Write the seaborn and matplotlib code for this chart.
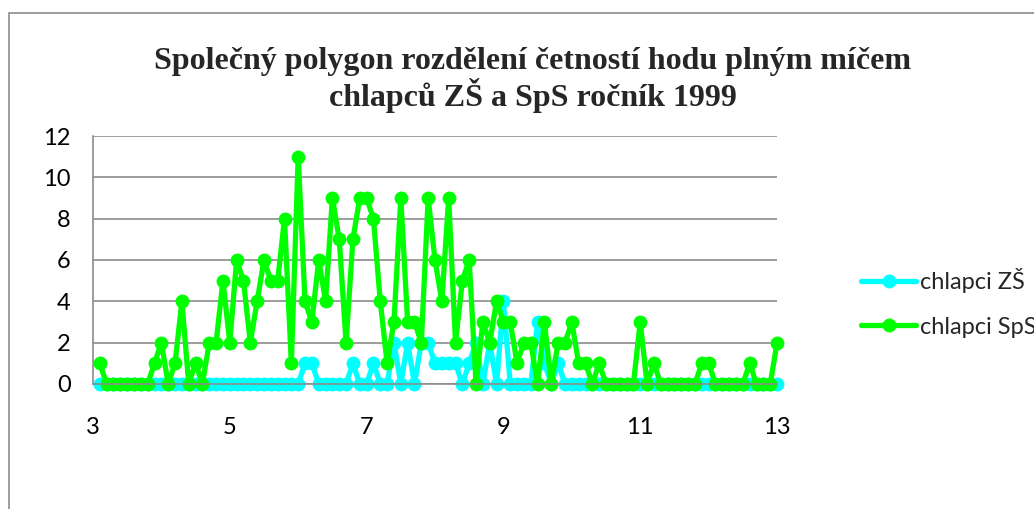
import numpy as np
import pandas as pd
import matplotlib
matplotlib.use("Agg")
import matplotlib.pyplot as plt
from matplotlib.patches import Rectangle
import seaborn as sns

# throw distance in m, step 0.1 from 3.1 to 13.0
distance = np.round(np.arange(3.1, 13.05, 0.1), 1)

chlapci_zs = [
    0, 0, 0, 0, 0, 0, 0, 0, 0, 0,
    0, 0, 0, 0, 0, 0, 0, 0, 0, 0,
    0, 0, 0, 0, 0, 0, 0, 0, 0, 0,
    1, 1, 0, 0, 0, 0, 0, 1, 0, 0,
    1, 0, 0, 2, 0, 2, 0, 2, 2, 1,
    1, 1, 1, 0, 1, 2, 0, 2, 0, 4,
    0, 0, 0, 0, 3, 1, 0, 1, 0, 0,
    0, 0, 0, 0, 0, 0, 0, 0, 0, 0,
    0, 0, 0, 0, 0, 0, 0, 0, 0, 0,
    0, 0, 0, 0, 0, 0, 0, 0, 0, 0,
]
chlapci_sps = [
    1, 0, 0, 0, 0, 0, 0, 0, 1, 2,
    0, 1, 4, 0, 1, 0, 2, 2, 5, 2,
    6, 5, 2, 4, 6, 5, 5, 8, 1, 11,
    4, 3, 6, 4, 9, 7, 2, 7, 9, 9,
    8, 4, 1, 3, 9, 3, 3, 2, 9, 6,
    4, 9, 2, 5, 6, 0, 3, 2, 4, 3,
    3, 1, 2, 2, 0, 3, 0, 2, 2, 3,
    1, 1, 0, 1, 0, 0, 0, 0, 0, 3,
    0, 1, 0, 0, 0, 0, 0, 0, 1, 1,
    0, 0, 0, 0, 0, 1, 0, 0, 0, 2,
]
series_names = ["chlapci ZŠ", "chlapci SpS"]
series_colors = ["#00FFFF", "#00FF00"]
x_ticks = [3, 5, 7, 9, 11, 13]
y_ticks = [0, 2, 4, 6, 8, 10, 12]

df = pd.concat([
    pd.DataFrame({"x": distance, "value": chlapci_zs, "series": series_names[0]}),
    pd.DataFrame({"x": distance, "value": chlapci_sps, "series": series_names[1]}),
])

sns.set_style("white")
plt.rcParams["font.family"] = ["Lato", "DejaVu Sans"]

fig = plt.figure(figsize=(10.34, 5.09), dpi=100)
ax = fig.add_axes([0.0899, 0.2456, 0.6616, 0.4872])

sns.lineplot(data=df, x="x", y="value", hue="series", hue_order=series_names,
             palette=series_colors, marker="o", markersize=10, markeredgewidth=0,
             linewidth=3.8, ax=ax, legend=True, clip_on=False)

ax.set_xlim(3, 13)
ax.set_ylim(0, 12)
ax.set_xticks(x_ticks)
ax.set_yticks(y_ticks)
ax.set_xticklabels([str(t) for t in x_ticks])
ax.grid(axis="y", color="#8c8c8c", linewidth=1.2)
ax.set_axisbelow(True)
ax.set_xlabel("")
ax.set_ylabel("")
for side in ["top", "right"]:
    ax.spines[side].set_visible(False)
for side in ["left", "bottom"]:
    ax.spines[side].set_color("#8c8c8c")
    ax.spines[side].set_linewidth(1.2)
ax.tick_params(axis="both", length=0, labelsize=17, colors="black")
ax.tick_params(axis="x", pad=24)
ax.tick_params(axis="y", pad=16)

# legend runs past the right edge, as in the cropped original
handles, labels = ax.get_legend_handles_labels()
ax.legend(handles, labels, loc="center left", bbox_to_anchor=(0.8125, 0.405),
          bbox_transform=fig.transFigure, frameon=False, fontsize=17,
          handlelength=2.3, handletextpad=0.2, labelspacing=1.0)

fig.text(0.515, 0.843,
         "Společný polygon rozdělení četností hodu plným míčem\nchlapců ZŠ a SpS ročník 1999",
         ha="center", va="center", fontsize=23, fontweight="bold",
         family=["Liberation Serif", "DejaVu Serif"], linespacing=1.1)

fig.add_artist(Rectangle((8.5 / 1034, -0.5), 2, 0.5 + 1 - 13 / 509,
                         transform=fig.transFigure, fill=False,
                         edgecolor="#8c8c8c", linewidth=1.2))

fig.savefig("out.png", dpi=100)
